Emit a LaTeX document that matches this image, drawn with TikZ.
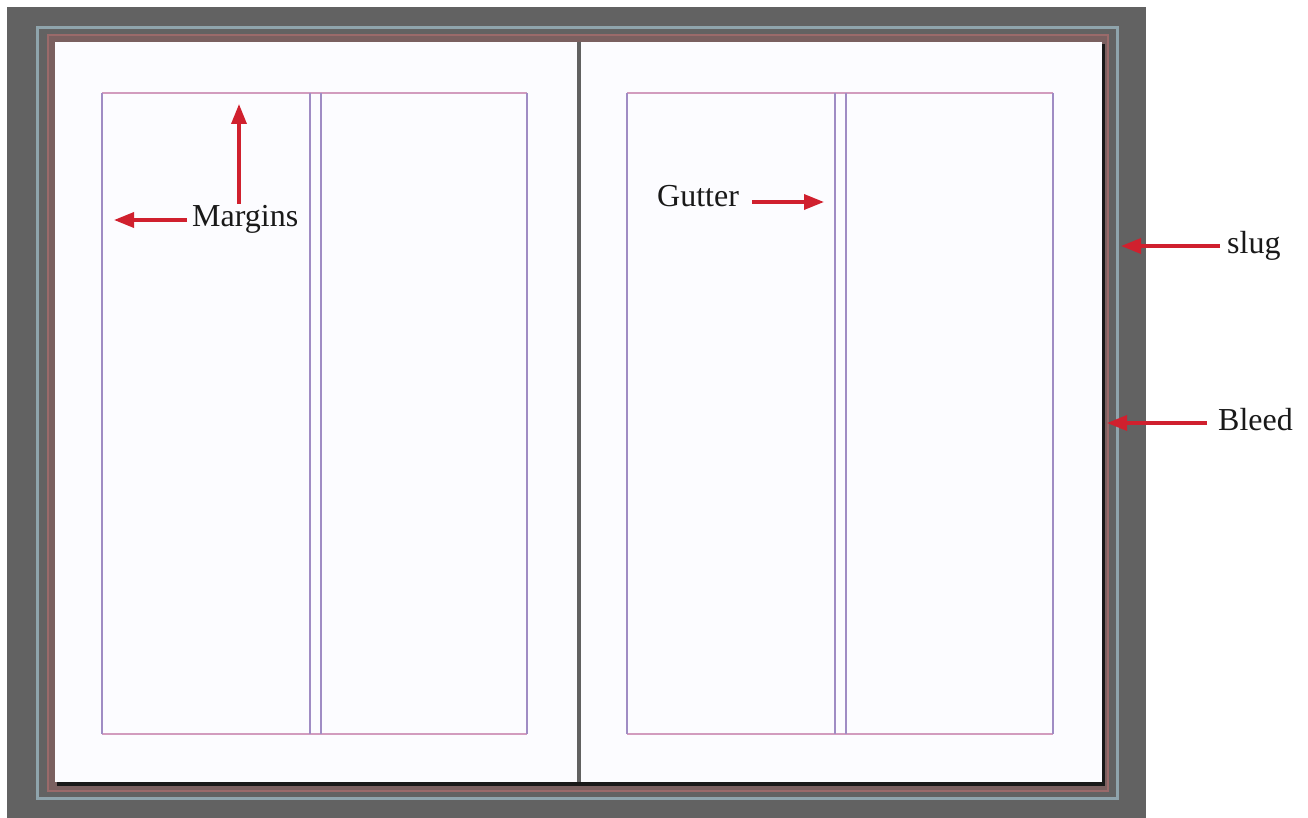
\documentclass[tikz,border=0pt]{standalone}
\usepackage{fontspec}
\setmainfont{Liberation Serif}
\usetikzlibrary{arrows.meta}
\definecolor{bggray}{HTML}{626262}
\definecolor{slugc}{HTML}{8FA4AC}
\definecolor{bleedc}{HTML}{9A6A6A}
\definecolor{bleedband}{HTML}{7A6060}
\definecolor{margpink}{HTML}{D29CBE}
\definecolor{colviolet}{HTML}{A08CC4}
\definecolor{arrred}{HTML}{D0202E}
\tikzset{
  lbl/.style={font=\fontsize{32}{36}\selectfont, inner sep=0pt, text=black!90},
  redarrow/.style={draw=arrred, line width=3.4pt, -{Triangle[length=20pt,width=15pt]}},
  hmarg/.style={draw=margpink, line width=2.6pt},
  vmarg/.style={draw=colviolet, line width=2.8pt},
}
\begin{document}
\begin{tikzpicture}[x=1pt,y=-1pt]
\useasboundingbox (0,0) rectangle (1308,818);
% background
\fill[white] (0,0) rectangle (1308,818);
\fill[bggray] (7,7) rectangle (1146,818);
% slug line
\draw[slugc, line width=3pt] (37,28) rectangle (1117,798);
% bleed band
\fill[bleedband] (47,34) rectangle (1109,792);
\draw[bleedc, line width=2.5pt] (48,35) rectangle (1108,791);
% page shadow
\fill[black!90] (57,44) rectangle (1105,786);
% pages
\fill[white!99!blue] (55,42) rectangle (1102,782);
% spine
\draw[black!62, line width=3.5pt] (579,42) -- (579,782);
% left page margins and columns
\draw[hmarg] (102,93) -- (527,93);
\draw[hmarg] (102,734) -- (527,734);
\draw[vmarg] (102,93) -- (102,734);
\draw[vmarg] (527,93) -- (527,734);
\draw[vmarg] (310,93) -- (310,734);
\draw[vmarg] (321,93) -- (321,734);
% right page margins and columns
\draw[hmarg] (627,93) -- (1053,93);
\draw[hmarg] (627,734) -- (1053,734);
\draw[vmarg] (627,93) -- (627,734);
\draw[vmarg] (1053,93) -- (1053,734);
\draw[vmarg] (835,93) -- (835,734);
\draw[vmarg] (846,93) -- (846,734);
% labels
\node[lbl, anchor=base west] (margins) at (192,227) {Margins};
\node[lbl, anchor=base west] (gutter) at (657,207) {Gutter};
\node[lbl, anchor=base west] (slug) at (1227,254) {slug};
\node[lbl, anchor=base west] (bleed) at (1218,430) {Bleed};
% arrow ends
\coordinate (mvtail) at (239,204);
\coordinate (mvtip) at (239,104);
\coordinate (mhtail) at (187,220);
\coordinate (mhtip) at (114,220);
\coordinate (gtail) at (752,202);
\coordinate (gtip) at (824,202);
\coordinate (stail) at (1220,246);
\coordinate (stip) at (1121,246);
\coordinate (btail) at (1207,423);
\coordinate (btip) at (1107,423);
\draw[redarrow] (mvtail) -- (mvtip);
\draw[redarrow] (mhtail) -- (mhtip);
\draw[redarrow] (gtail) -- (gtip);
\draw[redarrow] (stail) -- (stip);
\draw[redarrow] (btail) -- (btip);
\end{tikzpicture}
\end{document}
